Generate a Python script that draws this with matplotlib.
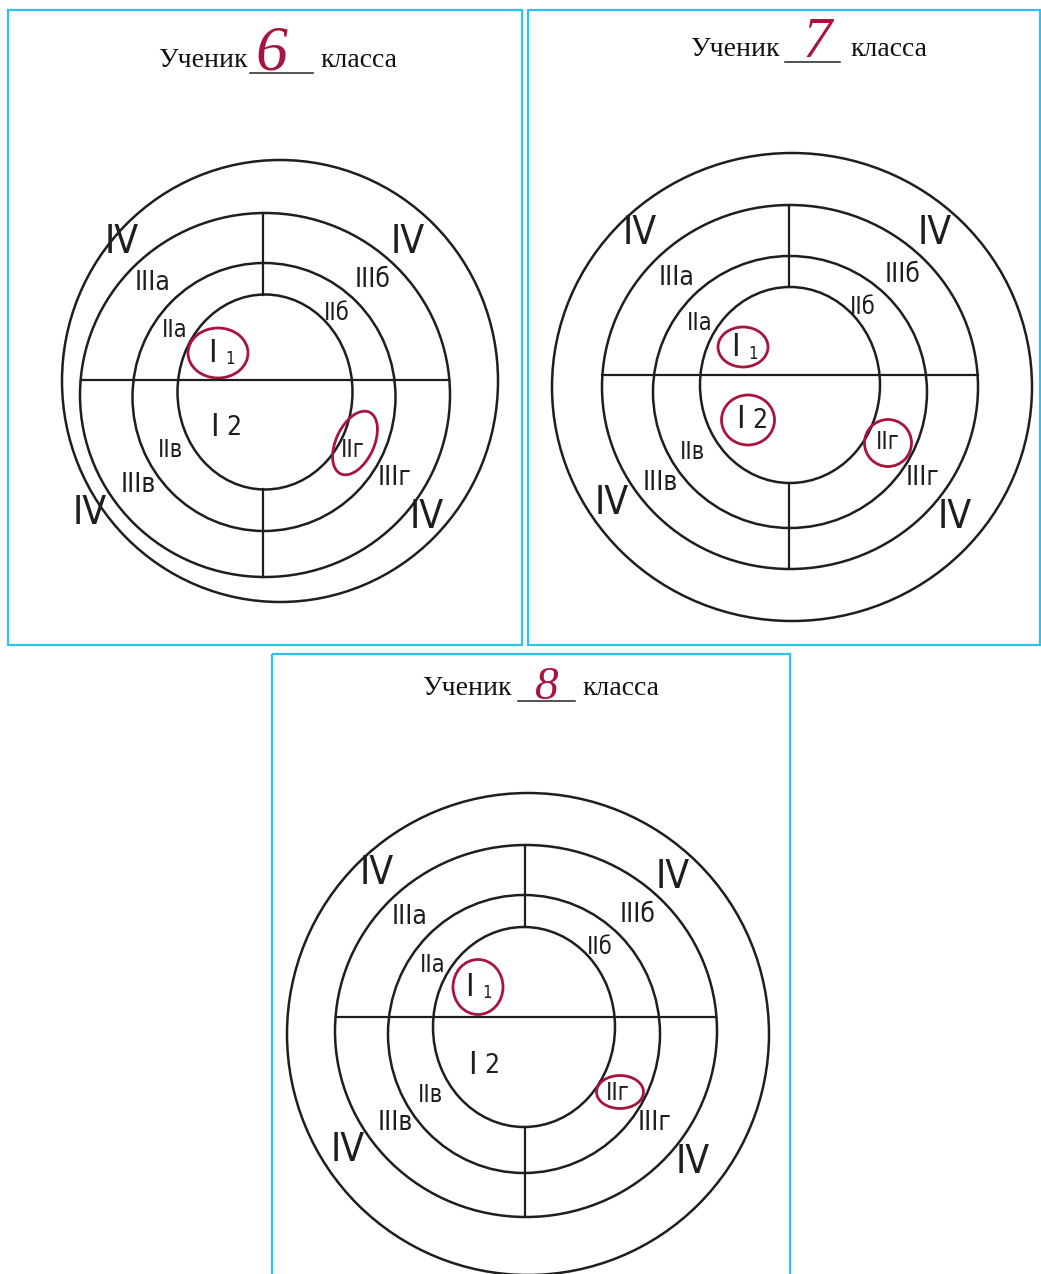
import numpy as np
import matplotlib.pyplot as plt
from matplotlib.patches import Ellipse, Rectangle

# данные: номер класса и отмеченные сектора
grades = ['6', '7', '8']
ring4 = ['IV', 'IV', 'IV', 'IV']
ring3 = ['IIIа', 'IIIб', 'IIIв', 'IIIг']
ring2 = ['IIа', 'IIб', 'IIв', 'IIг']
ring1 = ['I1', 'I2']
circled = [['I1', 'IIг'], ['I1', 'I2', 'IIг'], ['I1', 'IIг']]

labels = ring4 + ring3 + ring2 + ring1

# геометрия панелей (пиксели)
panels = [
    dict(box=(8, 10, 522, 645),
         title=(158, 250, 313, 320, 67), digit=(271, 55, 46),
         circles=[(280, 381, 436, 442), (265, 395, 370, 364), (264, 397, 263, 268), (265, 392, 175, 195)],
         hline=380, vline=263,
         pos=[(122, 242), (408, 242), (90, 513), (427, 517),
              (153, 283), (373, 280), (138, 485), (395, 478),
              (175, 330), (337, 313), (170, 450), (353, 450),
              (220, 353), (222, 427)],
         marks={'I1': (218, 353, 60, 50, 0), 'IIг': (355, 443, 38, 68, 25)}),
    dict(box=(528, 10, 1040, 645),
         title=(690, 785, 840, 850, 56), digit=(817, 43, 42),
         circles=[(792, 387, 480, 468), (790, 387, 376, 364), (790, 392, 274, 272), (790, 385, 180, 196)],
         hline=375, vline=789,
         pos=[(640, 233), (935, 233), (612, 503), (955, 517),
              (677, 278), (903, 275), (660, 483), (923, 478),
              (700, 323), (863, 307), (693, 452), (888, 442),
              (743, 348), (748, 420)],
         marks={'I1': (743, 347, 50, 40, 0), 'I2': (748, 420, 53, 50, 0), 'IIг': (888, 443, 47, 47, 0)}),
    dict(box=(272, 654, 790, 1280),
         title=(422, 518, 575, 582, 695), digit=(547, 688, 34),
         circles=[(528, 1034, 482, 482), (526, 1031, 382, 372), (524, 1034, 272, 278), (524, 1027, 182, 200)],
         hline=1017, vline=525,
         pos=[(377, 873), (673, 877), (348, 1150), (693, 1162),
              (410, 917), (638, 915), (395, 1123), (655, 1123),
              (433, 965), (600, 947), (430, 1095), (618, 1093),
              (477, 987), (480, 1065)],
         marks={'I1': (478, 987, 50, 55, 0), 'IIг': (620, 1092, 47, 33, 0)}),
]

ink = '#1e1e1e'
red = '#a8153c'
blue = '#2cc3f0'
sans = ['DejaVu Sans']
serif = ['Liberation Serif', 'DejaVu Serif']


def x_on(c, y):
    # края эллипса на высоте y
    cx, cy, w, h = c
    t = 1 - ((y - cy) / (h / 2)) ** 2
    return cx - w / 2 * np.sqrt(max(t, 0)), cx + w / 2 * np.sqrt(max(t, 0))


def y_on(c, x):
    cx, cy, w, h = c
    t = 1 - ((x - cx) / (w / 2)) ** 2
    return cy - h / 2 * np.sqrt(max(t, 0)), cy + h / 2 * np.sqrt(max(t, 0))


fig = plt.figure(figsize=(10.41, 12.74), dpi=100)
ax = fig.add_axes([0, 0, 1, 1])
ax.set_xlim(0, 1041)
ax.set_ylim(1274, 0)
ax.axis('off')

for k, p in enumerate(panels):
    x0, y0, x1, y1 = p['box']
    ax.add_patch(Rectangle((x0, y0), x1 - x0, y1 - y0, fill=False, ec=blue, lw=1.6))

    # заголовок
    tx, u0, u1, tx2, ty = p['title']
    ax.text(tx, ty, 'Ученик', family=serif, fontsize=20, color='#111', va='baseline')
    ax.plot([u0, u1], [ty + 6, ty + 6], color='#222', lw=1.1)
    ax.text(tx2, ty, 'класса', family=serif, fontsize=20, color='#111', va='baseline')
    dx, dy, ds = p['digit']
    ax.text(dx, dy, grades[k], family=serif, style='italic', fontsize=ds, color=red,
            ha='center', va='center', fontweight='light')

    # круги
    for c in p['circles']:
        ax.add_patch(Ellipse((c[0], c[1]), c[2], c[3], fill=False, ec=ink, lw=1.8))

    c3 = p['circles'][1]
    c1 = p['circles'][3]
    xl, xr = x_on(c3, p['hline'])
    ax.plot([xl, xr], [p['hline'], p['hline']], color=ink, lw=1.6)
    t3, b3 = y_on(c3, p['vline'])
    t1, b1 = y_on(c1, p['vline'])
    ax.plot([p['vline'], p['vline']], [t3, t1], color=ink, lw=1.6)
    ax.plot([p['vline'], p['vline']], [b1, b3], color=ink, lw=1.6)

    # подписи секторов
    kw = dict(family=sans, stretch='condensed', color=ink, ha='center', va='center')
    for lab, (lx, ly) in zip(labels, p['pos']):
        if lab == 'IV':
            ax.text(lx, ly, lab, fontsize=28, **kw)
        elif lab.startswith('III'):
            ax.text(lx, ly, lab, fontsize=19, **kw)
        elif lab.startswith('II'):
            ax.text(lx, ly, lab, fontsize=17, **kw)
        else:
            ax.text(lx - 8, ly, 'I', fontsize=23, **kw)
            if lab == 'I1':
                ax.text(lx + 10, ly + 6, '1', fontsize=12, **kw)
            else:
                ax.text(lx + 12, ly + 1, '2', fontsize=19, **kw)

    # обведённые ответы
    for lab in circled[k]:
        mx, my, mw, mh, ang = p['marks'][lab]
        ax.add_patch(Ellipse((mx, my), mw, mh, angle=ang, fill=False, ec=red, lw=2.0))

fig.savefig('out.png', dpi=100, facecolor='white')
